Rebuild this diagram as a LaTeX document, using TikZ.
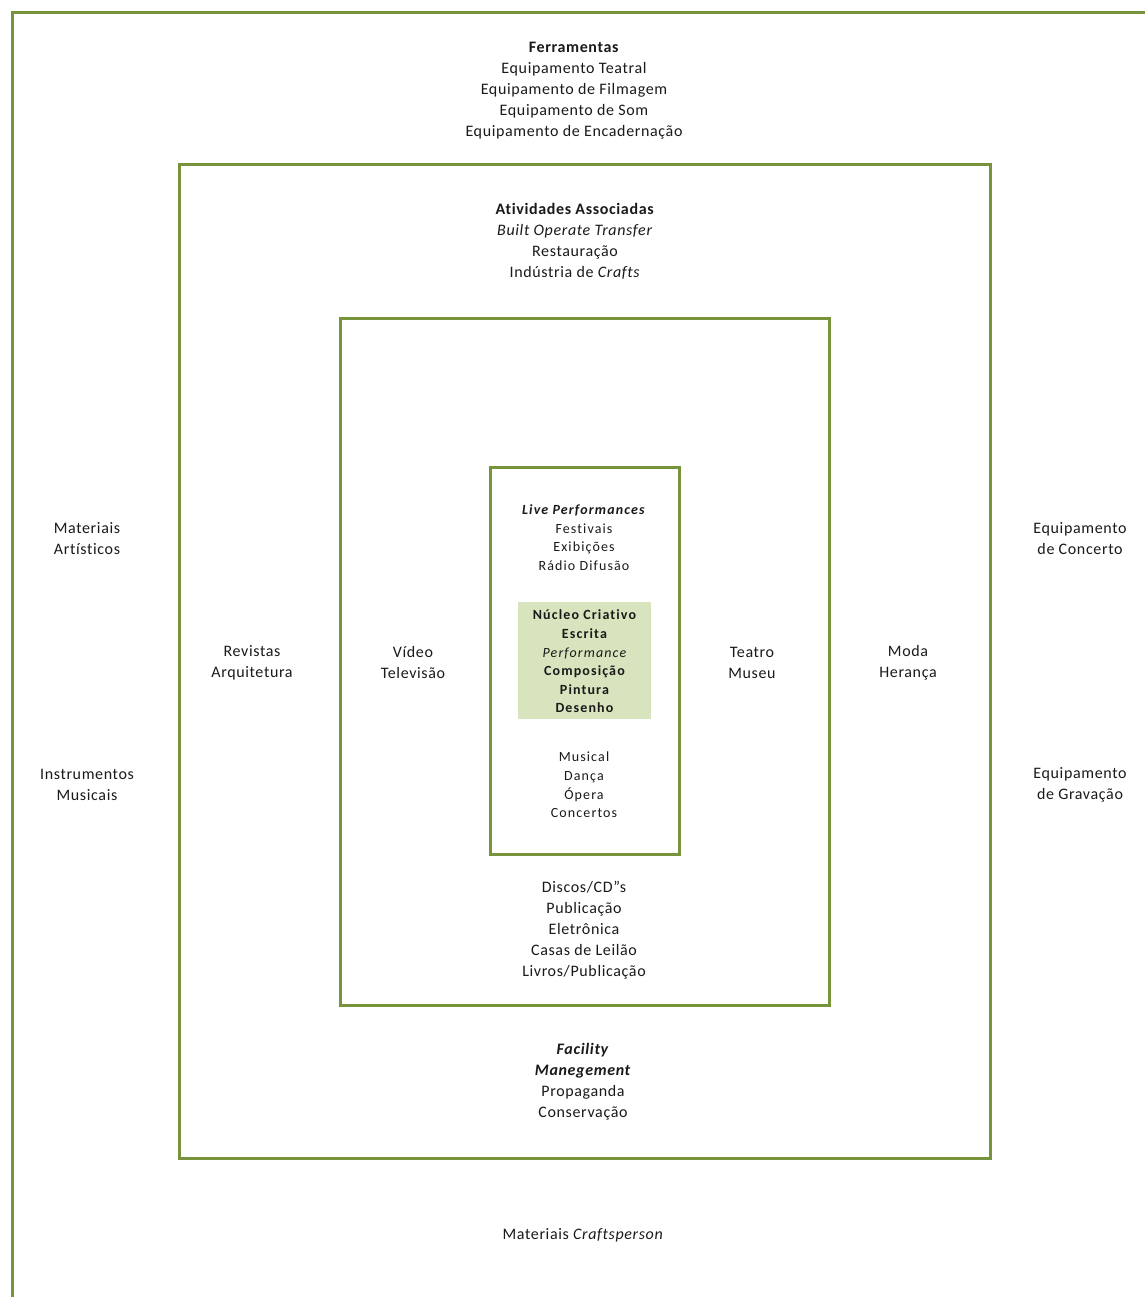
\documentclass[tikz,border=0pt]{standalone}
\usepackage{fontspec}
\setmainfont{Carlito}[Ligatures=NoCommon]
\definecolor{olive}{HTML}{77933C}
\definecolor{corefill}{HTML}{D7E4BD}
\definecolor{txt}{HTML}{1A1A1A}
\begin{document}
\begin{tikzpicture}[x=1pt,y=-1pt,
  frame/.style={draw=olive, line width=3pt},
  big/.style={align=center, inner sep=0pt, text=txt, font=\fontsize{16}{21}\selectfont\addfontfeature{LetterSpace=4}},
  small/.style={align=center, inner sep=0pt, text=txt, font=\fontsize{14}{18.6}\selectfont\addfontfeature{LetterSpace=8}},
]
\useasboundingbox (0,0) rectangle (1144,1297);
\fill[white] (0,0) rectangle (1144,1297);
% frames
\draw[frame] (12,1300) -- (12,13) -- (1150,13);
\draw[frame] (179,165) rectangle (990,1158);
\draw[frame] (340,318) rectangle (829,1005);
\draw[frame] (490,467) rectangle (679,854);
\fill[corefill] (518,602) rectangle (651,719);

% outer ring texts
\node[big] (ferr) at (574,90.5) {\textbf{Ferramentas}\\Equipamento Teatral\\Equipamento de Filmagem\\Equipamento de Som\\Equipamento de Encadernação};
\node[big] (matart) at (87,538.5) {Materiais\\Artísticos};
\node[big] (instr) at (87,784.5) {Instrumentos\\Musicais};
\node[big] (eqconc) at (1080,538.5) {Equipamento\\de Concerto};
\node[big] (eqgrav) at (1080,784.5) {Equipamento\\de Gravação};
\node[big] (matcraft) at (583,1235) {Materiais \textit{Craftsperson}};

% second ring
\node[big] (ativ) at (575,241.5) {\textbf{Atividades Associadas}\\\textit{Built Operate Transfer}\\Restauração\\Indústria de \textit{Crafts}};
\node[big] (revistas) at (252,662.5) {Revistas\\Arquitetura};
\node[big] (moda) at (908,662.5) {Moda\\Herança};
\node[big] (facility) at (583,1081.5) {\textbf{\textit{Facility}}\\\textbf{\textit{Manegement}}\\Propaganda\\Conservação};

% third ring
\node[big] (video) at (413,662.5) {Vídeo\\Televisão};
\node[big] (teatro) at (752,662.5) {Teatro\\Museu};
\node[big] (discos) at (584,930.5) {Discos/CD''s\\Publicação\\Eletrônica\\Casas de Leilão\\Livros/Publicação};

% inner ring
\node[small] (live) at (584,537.5) {\textbf{\textit{Live Performances}}\\Festivais\\Exibições\\Rádio Difusão};
\node[small] (nucleo) at (585,661.5) {\textbf{Núcleo Criativo}\\\textbf{Escrita}\\\textit{Performance}\\\textbf{Composição}\\\textbf{Pintura}\\\textbf{Desenho}};
\node[small] (musical) at (584,785) {Musical\\Dança\\Ópera\\Concertos};
\end{tikzpicture}
\end{document}
